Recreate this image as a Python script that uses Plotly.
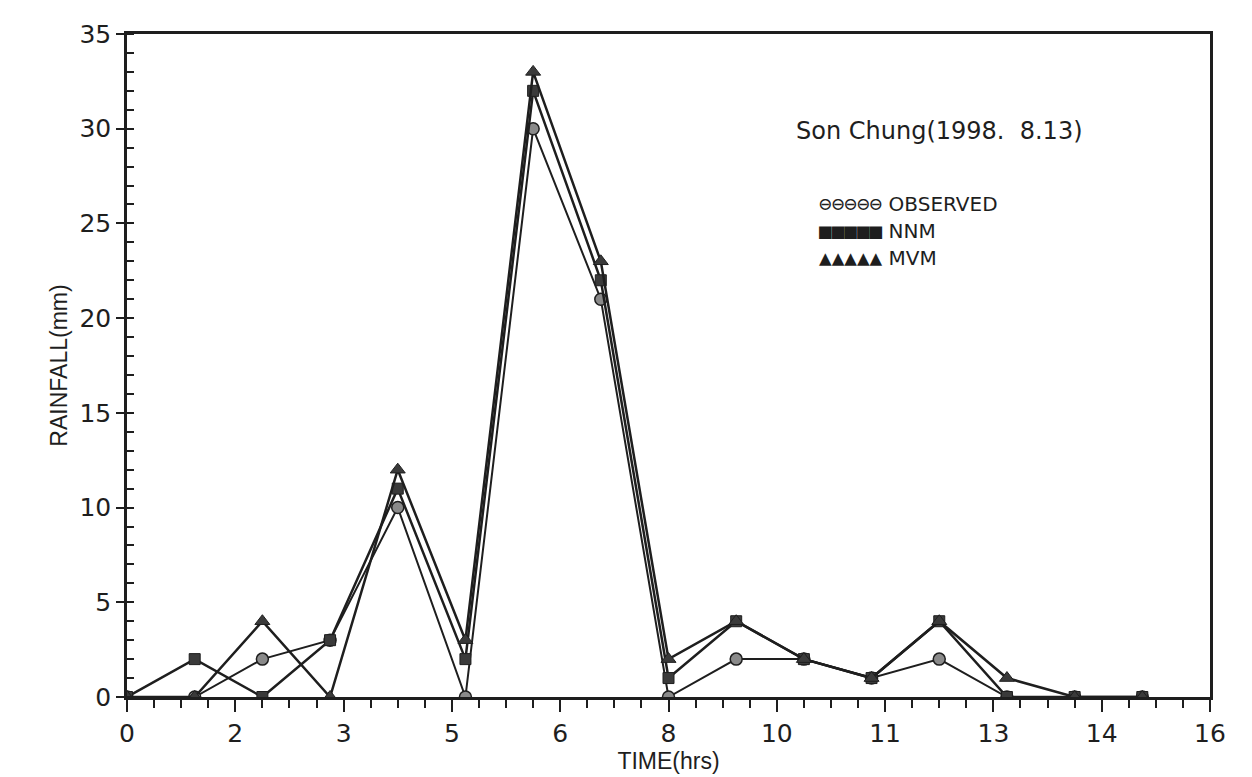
import plotly.graph_objects as go

hours = list(range(16))
observed = [0, 0, 2, 3, 10, 0, 30, 21, 0, 2, 2, 1, 2, 0, 0, 0]
nnm      = [0, 2, 0, 3, 11, 2, 32, 22, 1, 4, 2, 1, 4, 0, 0, 0]
mvm      = [0, 0, 4, 0, 12, 3, 33, 23, 2, 4, 2, 1, 4, 1, 0, 0]

x_tick_vals = [0, 1.6, 3.2, 4.8, 6.4, 8.0, 9.6, 11.2, 12.8, 14.4, 16.0]
x_tick_text = ["0", "2", "3", "5", "6", "8", "10", "11", "13", "14", "16"]
y_tick_vals = [0, 5, 10, 15, 20, 25, 30, 35]

ink = "#1e1e1e"
fnt = "DejaVu Sans, Liberation Sans, sans-serif"
fnt2 = "Liberation Sans, Arial, sans-serif"

fig = go.Figure()
fig.add_trace(go.Scatter(x=hours, y=observed, mode="lines+markers", name="OBSERVED",
                         line=dict(color=ink, width=2),
                         marker=dict(symbol="circle", size=12, color="#8a8a8a",
                                     line=dict(color=ink, width=1.5)),
                         showlegend=False))
fig.add_trace(go.Scatter(x=hours, y=nnm, mode="lines+markers", name="NNM",
                         line=dict(color=ink, width=2.5),
                         marker=dict(symbol="square", size=11, color="#3a3a3a",
                                     line=dict(color=ink, width=1)),
                         showlegend=False))
fig.add_trace(go.Scatter(x=hours, y=mvm, mode="lines+markers", name="MVM",
                         line=dict(color=ink, width=2.5),
                         marker=dict(symbol="triangle-up", size=13, color="#3a3a3a",
                                     line=dict(color=ink, width=1)),
                         showlegend=False))

fig.update_xaxes(range=[0, 16], tickvals=x_tick_vals, ticktext=x_tick_text,
                 ticks="outside", ticklen=12, tickwidth=2, tickcolor=ink,
                 minor=dict(dtick=0.4, tick0=0, ticks="outside", ticklen=8,
                            tickwidth=2, tickcolor=ink),
                 showline=True, linecolor=ink, linewidth=2.5, mirror=True,
                 showgrid=False, zeroline=False,
                 tickfont=dict(family=fnt, size=25, color=ink),
                 title=dict(text="TIME(hrs)", font=dict(family=fnt2, size=23, color=ink),
                            standoff=2))
fig.update_yaxes(range=[0, 35], tickvals=y_tick_vals,
                 ticks="outside", ticklen=8, tickwidth=2, tickcolor=ink,
                 minor=dict(dtick=1, tick0=0, ticks="inside", ticklen=7,
                            tickwidth=2, tickcolor=ink),
                 showline=True, linecolor=ink, linewidth=2.5, mirror=True,
                 showgrid=False, zeroline=False,
                 tickfont=dict(family=fnt, size=25, color=ink),
                 title=dict(text="RAINFALL(mm)", font=dict(family=fnt2, size=23, color=ink),
                            standoff=6))

fig.add_annotation(x=0.885, y=29.9, xref="paper", yref="y", text="Son Chung(1998.  8.13)",
                   showarrow=False, font=dict(family=fnt, size=24, color=ink),
                   xanchor="right", yanchor="middle")

legend_rows = [("⊖⊖⊖⊖⊖", "OBSERVED", 26.0), ("■■■■■", "NNM", 24.6), ("▲▲▲▲▲", "MVM", 23.2)]
for sym, label, yy in legend_rows:
    fig.add_annotation(x=0.637, y=yy, xref="paper", yref="y",
                       text=(f"<span style='font-family:DejaVu Sans Mono;font-size:21px'>{sym}</span>"
                             f" {label}"),
                       showarrow=False, xanchor="left", yanchor="middle",
                       font=dict(family=fnt, size=20, color=ink))

fig.update_layout(width=1252, height=777, plot_bgcolor="white", paper_bgcolor="white",
                  margin=dict(l=119, r=50, t=22, b=88))

fig.write_html("out.html")
